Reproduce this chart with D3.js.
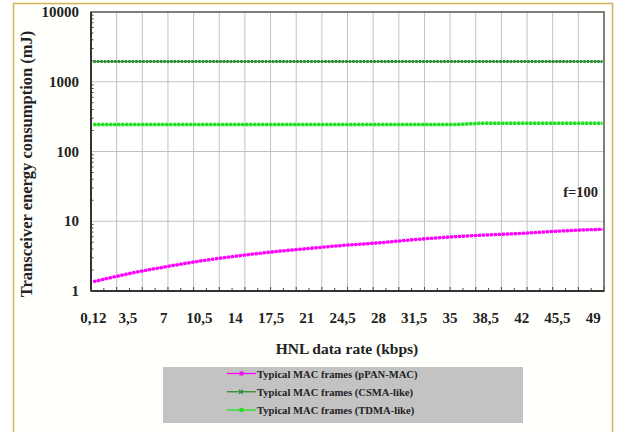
<!DOCTYPE html>
<html>
<head>
<meta charset="utf-8">
<script src="https://cdnjs.cloudflare.com/ajax/libs/d3/7.8.5/d3.min.js"></script>
<style>
    body { margin: 0; background: #ffffff; }
    svg { display: block; }
</style>
</head>
<body>
<svg id="SVG1" width="627" height="432"></svg>
<script>
// x categories (kbps) - the last one is the extra point at the right edge
var rateTicks = [0.12, 3.5, 7, 10.5, 14, 17.5, 21, 24.5, 28, 31.5, 35, 38.5, 42, 45.5, 49];
var rateData = [0.12, 3.5, 7, 10.5, 14, 17.5, 21, 24.5, 28, 31.5, 35, 38.5, 42, 45.5, 49, 49.9];

// energy (mJ)
var pPanMac = [1.36, 1.76, 2.2, 2.68, 3.15, 3.62, 4.05, 4.5, 4.9, 5.45, 5.95, 6.35, 6.7, 7.2, 7.6, 7.65];
var csmaLike = [1950, 1950, 1950, 1950, 1950, 1950, 1950, 1950, 1950, 1950, 1950, 1950, 1950, 1950, 1950, 1950];
var tdmaLike = [243, 243, 243, 243, 243, 243, 243, 243, 243, 243, 243, 254, 254, 254, 254, 254];

var yTicks = [1, 10, 100, 1000, 10000];
var seriesNames = ["Typical MAC frames (pPAN-MAC)", "Typical MAC frames (CSMA-like)", "Typical MAC frames (TDMA-like)"];
var seriesColors = ["#ff00ff", "#2f8f2f", "#22e022"];

document.addEventListener('DOMContentLoaded', function () {
    drawChart();
});

function drawChart() {
    var svg = d3.select('#SVG1');
    svg.selectAll("*").remove();

    var left = 91, right = 604, top = 12, bottom = 291;
    var serif = "'Liberation Serif', 'DejaVu Serif', serif";

    // outer frame
    svg.append('rect')
        .attr('x', 13.5).attr('y', 3.5).attr('width', 599).attr('height', 445)
        .style('fill', '#fffffb').style('stroke', '#d2b45a').style('stroke-width', 1.5);

    var xScale = d3.scaleLinear().domain([-0.1, 50.05]).range([left, right]);
    var yScale = d3.scaleLog().domain([1, 10000]).range([bottom, top]);

    var g = svg.append('g');

    g.append('rect')
        .attr('x', left).attr('y', top).attr('width', right - left).attr('height', bottom - top)
        .style('fill', '#ffffff');

    // vertical grid, 20 steps across the axis
    var xd = xScale.domain();
    var gridX = d3.range(21).map(function (i) { return xd[0] + i * (xd[1] - xd[0]) / 20; });
    var minorX = d3.range(41).map(function (i) { return xd[0] + i * (xd[1] - xd[0]) / 40; });

    g.selectAll('.vgrid')
        .data(gridX.slice(1, 20))
        .enter()
        .append('line')
        .attr('class', 'vgrid')
        .attr('x1', d => xScale(d)).attr('x2', d => xScale(d))
        .attr('y1', top).attr('y2', bottom)
        .style('stroke', '#c2c2c2').style('stroke-width', 1);

    g.selectAll('.hgrid')
        .data(yTicks.slice(1, 4))
        .enter()
        .append('line')
        .attr('class', 'hgrid')
        .attr('x1', left).attr('x2', right)
        .attr('y1', d => yScale(d)).attr('y2', d => yScale(d))
        .style('stroke', '#c2c2c2').style('stroke-width', 1);

    // minor ticks (inside)
    var minorY = [];
    for (var p = 1; p < 10000; p *= 10) {
        for (var k = 2; k < 10; k++) minorY.push(p * k);
    }
    g.selectAll('.ytick')
        .data(minorY)
        .enter()
        .append('line')
        .attr('x1', left).attr('x2', left + 2.5)
        .attr('y1', d => yScale(d)).attr('y2', d => yScale(d))
        .style('stroke', '#444').style('stroke-width', 1);

    g.selectAll('.xtick')
        .data(minorX)
        .enter()
        .append('line')
        .attr('x1', d => xScale(d)).attr('x2', d => xScale(d))
        .attr('y1', bottom).attr('y2', (d, i) => i % 2 == 0 ? bottom - 4 : bottom - 3)
        .style('stroke', '#444').style('stroke-width', 1);

    // frame
    g.append('rect')
        .attr('x', left).attr('y', top).attr('width', right - left).attr('height', bottom - top)
        .style('fill', 'none').style('stroke', '#555').style('stroke-width', 1.5);
    g.append('line').attr('x1', left).attr('x2', left).attr('y1', top).attr('y2', bottom)
        .style('stroke', '#333').style('stroke-width', 2);
    g.append('line').attr('x1', left).attr('x2', right).attr('y1', bottom).attr('y2', bottom)
        .style('stroke', '#333').style('stroke-width', 2);

    // tick labels
    g.selectAll('.ylab')
        .data(yTicks)
        .enter()
        .append('text')
        .attr('x', 79)
        .attr('y', d => yScale(d) + 5)
        .attr('text-anchor', 'end')
        .style('font-family', serif).style('font-size', '15px').style('font-weight', 'bold')
        .style('fill', '#222')
        .text(d => d);

    g.selectAll('.xlab')
        .data(rateTicks)
        .enter()
        .append('text')
        .attr('x', d => xScale(d))
        .attr('y', 323)
        .attr('text-anchor', 'middle')
        .style('font-family', serif).style('font-size', '15px').style('font-weight', 'bold')
        .style('fill', '#222')
        .text(d => String(d).replace('.', ','));

    // series
    var allSeries = [pPanMac, csmaLike, tdmaLike];
    var dash = ["3,1", "2.5,1", "3,1"];
    var widths = [3.3, 3, 3.5];

    var line = d3.line()
        .x((d, i) => xScale(rateData[i]))
        .y(d => yScale(d))
        .curve(d3.curveMonotoneX);

    for (var s = 0; s < allSeries.length; s++) {
        g.append('path')
            .datum(allSeries[s])
            .attr('d', line)
            .style('fill', 'none')
            .style('stroke', seriesColors[s]).style('stroke-width', 1.2);
        g.append('path')
            .datum(allSeries[s])
            .attr('d', line)
            .style('fill', 'none')
            .style('stroke', seriesColors[s]).style('stroke-width', widths[s])
            .style('stroke-dasharray', dash[s]);
    }

    // f=100 note
    g.append('text')
        .attr('x', 598).attr('y', 197)
        .attr('text-anchor', 'end')
        .style('font-family', serif).style('font-size', '14.5px').style('font-weight', 'bold')
        .style('fill', '#222')
        .text('f=100');

    // axis titles
    g.append('text')
        .attr('x', 347).attr('y', 354)
        .attr('text-anchor', 'middle')
        .style('font-family', serif).style('font-size', '15.5px').style('font-weight', 'bold')
        .style('fill', '#222')
        .text('HNL data rate (kbps)');

    g.append('text')
        .attr('transform', 'translate(' + 32 + ', ' + 164 + ') rotate(-90)')
        .attr('text-anchor', 'middle')
        .style('font-family', serif).style('font-size', '16.5px').style('font-weight', 'bold')
        .style('fill', '#222')
        .text('Transceiver energy consumption (mJ)');

    drawLegend(svg, serif);
}

function drawLegend(svg, serif) {
    var lg = svg.append('g');
    lg.append('rect')
        .attr('x', 163).attr('y', 367).attr('width', 360).attr('height', 56)
        .style('fill', '#c3c3c3');

    var rowY = d3.scaleLinear().domain([0, 2]).range([373.5, 410]);

    for (var i = 0; i < seriesNames.length; i++) {
        var y = rowY(i);
        lg.append('line')
            .attr('x1', 227).attr('x2', 256).attr('y1', y).attr('y2', y)
            .style('stroke', seriesColors[i]).style('stroke-width', 1.3);
        if (i == 0) {
            lg.append('rect').attr('x', 239.5).attr('y', y - 2).attr('width', 4).attr('height', 4)
                .style('fill', seriesColors[i]);
        } else if (i == 1) {
            lg.append('path').attr('d', 'M239,' + (y - 2) + 'L243,' + (y + 2) + 'M239,' + (y + 2) + 'L243,' + (y - 2))
                .style('stroke', seriesColors[i]).style('stroke-width', 1.2);
        } else {
            lg.append('circle').attr('cx', 241.5).attr('cy', y).attr('r', 2.3)
                .style('fill', seriesColors[i]);
        }
        lg.append('text')
            .attr('x', 257).attr('y', y + 4)
            .style('font-family', serif).style('font-size', '10.6px').style('font-weight', 'bold')
            .style('fill', '#222')
            .text(seriesNames[i]);
    }
}
</script>
</body>
</html>
